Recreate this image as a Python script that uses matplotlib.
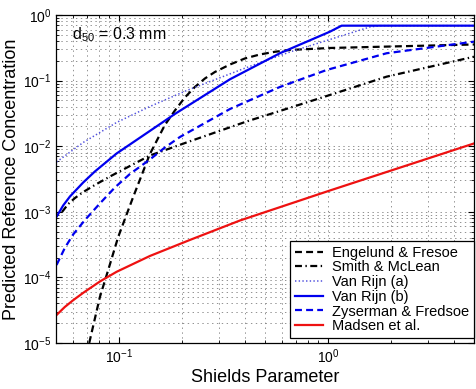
import numpy as np
import matplotlib
matplotlib.use("Agg")
import matplotlib.pyplot as plt
from matplotlib.ticker import LogLocator, NullFormatter

plt.rcParams['font.family'] = ['Liberation Sans', 'DejaVu Sans']
plt.rcParams['mathtext.fontset'] = 'custom'
plt.rcParams['mathtext.rm'] = 'Liberation Sans'
plt.rcParams['mathtext.it'] = 'Liberation Sans:italic'
plt.rcParams['mathtext.bf'] = 'Liberation Sans:bold'
plt.rcParams['lines.scale_dashes'] = False

# values (Shields parameter vs reference concentration)
ef_theta = [0.0721, 0.0811, 0.0889, 0.0992, 0.117, 0.1407, 0.166, 0.1853, 0.2068,
            0.2310, 0.2579, 0.2879, 0.340, 0.4007, 0.4727, 0.5577, 0.6579, 1.022, 5.0]
ef_c = [1.0e-5, 5.03e-5, 1.30e-4, 4.13e-4, 1.68e-3, 7.60e-3, 0.0211, 0.0350, 0.0553,
        0.0799, 0.1076, 0.1352, 0.1759, 0.2173, 0.250, 0.2748, 0.2927, 0.314, 0.355]

sm_theta = [0.0534, 0.0572, 0.0616, 0.0675, 0.0767, 0.0906, 0.1129, 0.1407, 0.2108,
            0.4083, 0.589, 1.022, 1.909, 5.0]
sm_c = [9.9e-4, 1.315e-3, 1.62e-3, 2.00e-3, 2.56e-3, 3.45e-3, 4.99e-3, 7.21e-3, 0.0114,
        0.0238, 0.0344, 0.0603, 0.1147, 0.231]

vra_theta = [0.0503, 0.0675, 0.0975, 0.1407, 0.211, 0.408, 0.658, 0.986, 1.588, 1.774, 5.0]
vra_c = [5.74e-3, 0.0114, 0.0230, 0.0403, 0.0706, 0.158, 0.273, 0.408, 0.656, 0.687, 0.687]

vrb_theta = [0.0503, 0.0541, 0.0583, 0.0675, 0.0767, 0.0975, 0.1406, 0.1853, 0.340,
             0.589, 1.022, 1.163, 5.0]
vrb_c = [8.4e-4, 1.247e-3, 1.71e-3, 2.80e-3, 4.11e-3, 7.74e-3, 0.01706, 0.0310, 0.1047,
         0.261, 0.556, 0.687, 0.687]

zf_theta = [0.0503, 0.0551, 0.0604, 0.0688, 0.0811, 0.0957, 0.1129, 0.1407, 0.1660,
            0.1958, 0.340, 0.589, 0.986, 1.909, 5.0]
zf_c = [1.545e-4, 2.81e-4, 4.51e-4, 7.50e-4, 1.34e-3, 2.35e-3, 3.77e-3, 6.27e-3, 9.55e-3,
        0.0138, 0.0369, 0.0799, 0.145, 0.261, 0.392]

md_theta = [0.0503, 0.0551, 0.0602, 0.0675, 0.0811, 0.0975, 0.1407, 0.2186, 0.3793, 1.022, 5.0]
md_c = [2.67e-5, 3.54e-5, 4.45e-5, 5.82e-5, 8.66e-5, 1.217e-4, 2.12e-4, 3.72e-4, 7.36e-4,
        2.11e-3, 0.0110]

fig = plt.figure(figsize=(4.77, 3.89), dpi=100)
ax = fig.add_axes([0.1174, 0.1183, 0.8763, 0.8432])

blue = '#0000ee'
red = '#ee1111'
lw = 1.6
ax.plot(ef_theta, ef_c, color='k', lw=lw, dashes=(5, 3), label='Engelund & Fresoe')
ax.plot(sm_theta, sm_c, color='k', lw=lw, dashes=(5, 2.5, 1, 2.5), label='Smith & McLean')
ax.plot(vra_theta, vra_c, color='#5050dd', lw=1.1, linestyle=':', label='Van Rijn (a)')
ax.plot(vrb_theta, vrb_c, color=blue, lw=lw, label='Van Rijn (b)')
ax.plot(zf_theta, zf_c, color=blue, lw=lw, dashes=(5, 3), label='Zyserman & Fredsoe')
ax.plot(md_theta, md_c, color=red, lw=lw, label='Madsen et al.')

ax.set_xscale('log')
ax.set_yscale('log')
ax.set_xlim(0.05, 5)
ax.set_ylim(1e-5, 1)

ax.xaxis.set_minor_locator(LogLocator(base=10, subs=np.arange(2, 10)))
ax.yaxis.set_minor_locator(LogLocator(base=10, subs=np.arange(2, 10), numticks=20))
ax.yaxis.set_major_locator(LogLocator(base=10, numticks=20))
ax.xaxis.set_minor_formatter(NullFormatter())
ax.yaxis.set_minor_formatter(NullFormatter())

ax.grid(True, which='both', color='0.5', linestyle=(0, (1, 2.5)), linewidth=0.6)
ax.set_axisbelow(True)
ax.tick_params(which='both', direction='in', top=True, right=True, labelsize=10)
ax.tick_params(which='major', length=4)
ax.tick_params(which='minor', length=2)
for s in ax.spines.values():
    s.set_linewidth(0.9)

ax.set_xlabel('Shields Parameter', fontsize=13, labelpad=2)
ax.set_ylabel('Predicted Reference Concentration', fontsize=13, labelpad=2)

ax.text(0.038, 0.925, r'd$_{50}$ = 0.3 mm', transform=ax.transAxes, fontsize=11.5,
        va='baseline', ha='left')

leg = ax.legend(loc='lower right', bbox_to_anchor=(1.0, 0.014), borderaxespad=0,
                fontsize=10.5, frameon=True, fancybox=False, framealpha=1,
                edgecolor='k', handlelength=1.9, handletextpad=0.6,
                labelspacing=0.05, borderpad=0.35)
leg.get_frame().set_linewidth(0.9)

fig.savefig('out.png', dpi=100)
